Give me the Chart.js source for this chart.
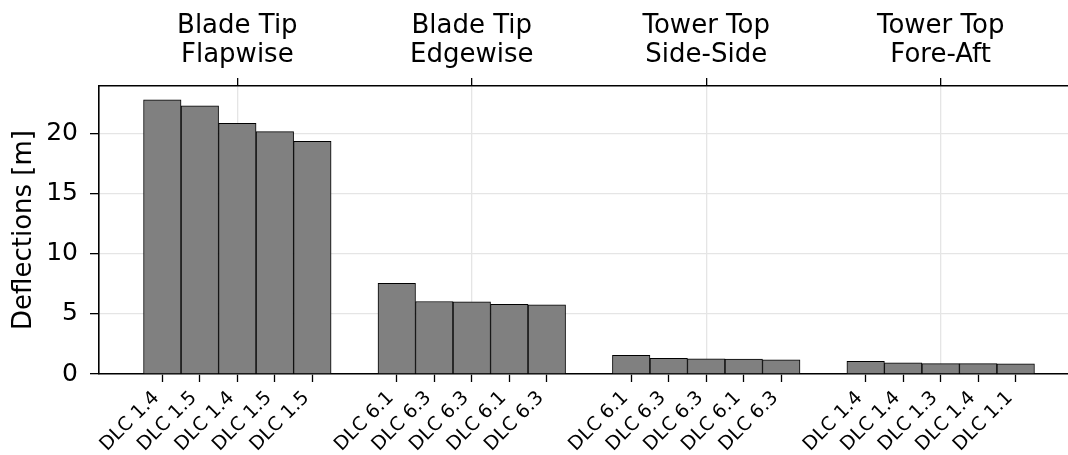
<!DOCTYPE html>
<html>
<head>
<meta charset="utf-8">
<script src="https://cdn.jsdelivr.net/npm/chart.js@4/dist/chart.umd.min.js"></script>
<style>
  html, body { margin: 0; padding: 0; background: #fff; overflow: hidden; }
  #wrap { width: 1079px; height: 455px; position: relative; }
</style>
</head>
<body>
<div id="wrap"><canvas id="chart"></canvas></div>
<script>
// Load-case groups (top axis) and the five worst design load cases in each
const groups = [
  ['Blade Tip', 'Flapwise'],
  ['Blade Tip', 'Edgewise'],
  ['Tower Top', 'Side-Side'],
  ['Tower Top', 'Fore-Aft']
];
const flapwiseCases = ['DLC 1.4', 'DLC 1.5', 'DLC 1.4', 'DLC 1.5', 'DLC 1.5'];
const edgewiseCases = ['DLC 6.1', 'DLC 6.3', 'DLC 6.3', 'DLC 6.1', 'DLC 6.3'];
const sideSideCases = ['DLC 6.1', 'DLC 6.3', 'DLC 6.3', 'DLC 6.1', 'DLC 6.3'];
const foreAftCases  = ['DLC 1.4', 'DLC 1.4', 'DLC 1.3', 'DLC 1.4', 'DLC 1.1'];

// Maximum deflections [m]
const flapwise = [22.8, 22.3, 20.85, 20.15, 19.35];
const edgewise = [7.55, 6.03, 6.0, 5.8, 5.75];
const sideSide = [1.55, 1.3, 1.27, 1.24, 1.18];
const foreAft  = [1.05, 0.93, 0.86, 0.86, 0.85];

const yTicks = [0, 5, 10, 15, 20];

// Bars sit side by side around each group index
const barWidth = 0.16;
const caseLabels = [flapwiseCases, edgewiseCases, sideSideCases, foreAftCases];
const values = [flapwise, edgewise, sideSide, foreAft];

const points = [];
const tickPos = [];
const tickText = [];
values.forEach((vals, g) => {
  vals.forEach((v, k) => {
    const x = g + (k - (vals.length - 1) / 2) * barWidth;
    points.push({ x: x, y: v });
    tickPos.push(x);
    tickText.push(caseLabels[g][k]);
  });
});

const FONT = "'DejaVu Sans', sans-serif";
const GRID = '#e5e5e5';
const xMin = -0.59, xMax = 3.59;

new Chart(document.getElementById('chart'), {
  type: 'bar',
  data: {
    datasets: [{
      data: points,
      backgroundColor: '#808080',
      borderColor: '#000000',
      borderWidth: 1,
      barPercentage: 1.0,
      categoryPercentage: 1.0,
      xAxisID: 'x',
      yAxisID: 'y'
    }]
  },
  options: {
    responsive: true,
    maintainAspectRatio: false,
    animation: false,
    layout: { padding: 0 },
    plugins: { legend: { display: false }, tooltip: { enabled: false } },
    scales: {
      x: {
        type: 'linear',
        position: 'bottom',
        offset: false,
        min: xMin,
        max: xMax,
        afterBuildTicks: (s) => { s.ticks = tickPos.map(v => ({ value: v })); },
        afterFit: (s) => { s.height = 81; },
        ticks: {
          autoSkip: false,
          minRotation: 45,
          maxRotation: 45,
          color: '#000',
          padding: 5,
          labelOffset: -6,
          font: { family: FONT, size: 19 },
          callback: (v, i) => tickText[i]
        },
        grid: { offset: false, drawOnChartArea: false, tickColor: '#000', tickLength: 8, tickWidth: 1.3 },
        border: { display: true, color: '#000', width: 1.6 }
      },
      xTop: {
        type: 'linear',
        position: 'top',
        offset: false,
        min: xMin,
        max: xMax,
        afterBuildTicks: (s) => { s.ticks = groups.map((_, i) => ({ value: i })); },
        afterFit: (s) => { s.height = 86; },
        ticks: {
          autoSkip: false,
          maxRotation: 0,
          color: '#000',
          padding: 8,
          font: { family: FONT, size: 26, lineHeight: 1.12 },
          callback: (v, i) => groups[i]
        },
        grid: { offset: false, color: GRID, lineWidth: 1.3, tickColor: '#000', tickLength: 8, tickWidth: 1.3 },
        border: { display: true, color: '#000', width: 1.6 }
      },
      y: {
        type: 'linear',
        position: 'left',
        min: 0,
        max: 23.95,
        afterBuildTicks: (s) => { s.ticks = yTicks.map(v => ({ value: v })); },
        afterFit: (s) => { s.width = 99; },
        ticks: {
          color: '#000',
          padding: 12,
          font: { family: FONT, size: 25 }
        },
        grid: { color: GRID, lineWidth: 1.3, tickColor: '#000', tickLength: 9, tickWidth: 1.3 },
        border: { display: true, color: '#000', width: 1.6 },
        title: {
          display: true,
          text: 'Deflections [m]',
          color: '#000',
          font: { family: FONT, size: 26 },
          padding: { top: 9, bottom: 4 }
        }
      }
    }
  }
});
</script>
</body>
</html>
